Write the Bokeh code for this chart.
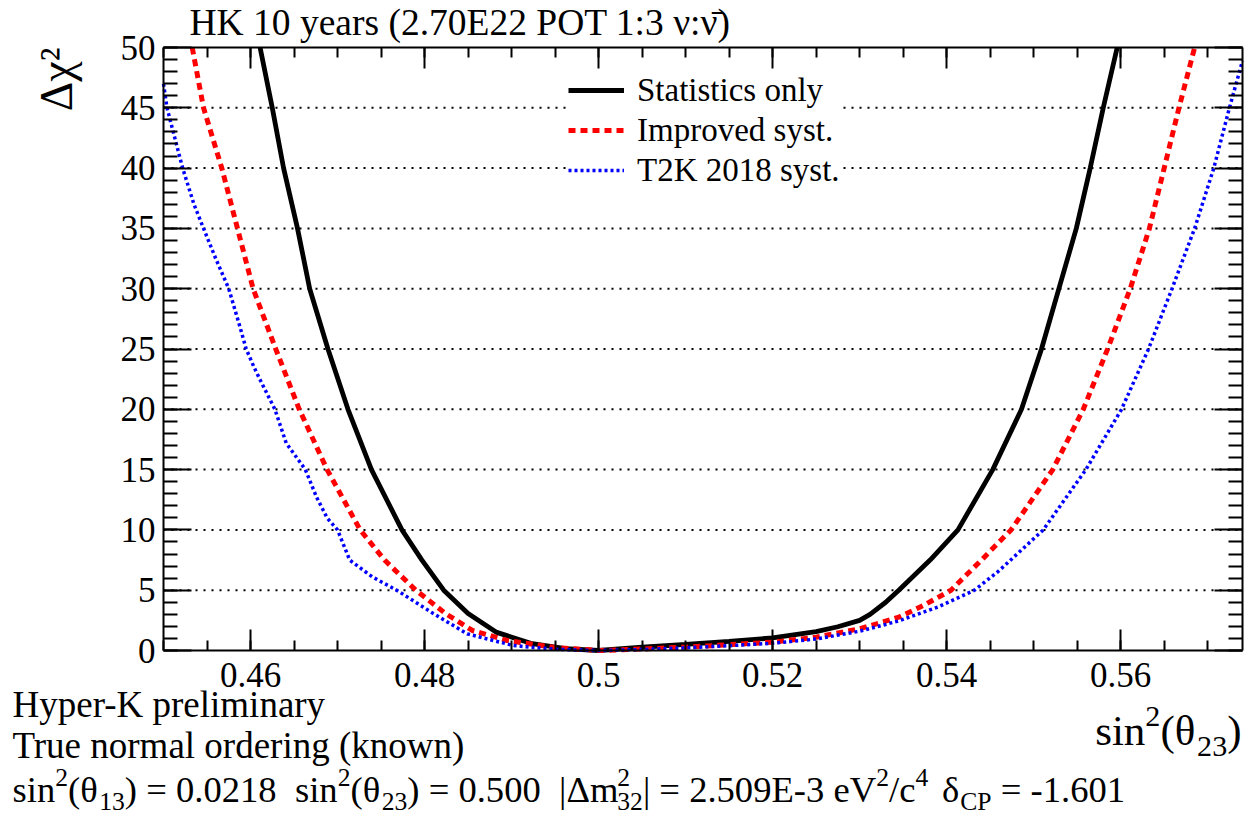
import math
from bokeh.plotting import figure
from bokeh.models import (Range1d, LinearAxis, FixedTicker, Legend, LegendItem,
                          Label, CustomJSTickFormatter)
from bokeh.embed import file_html
from bokeh.resources import INLINE

# ---------------- data ----------------
stat_x = [0.4611, 0.4625, 0.4638, 0.4654, 0.4668, 0.4689, 0.4712, 0.4739, 0.4774,
          0.4797, 0.4822, 0.4850, 0.4883, 0.4922, 0.4962, 0.5000, 0.5050, 0.5100,
          0.5150, 0.5200, 0.5250, 0.5275, 0.5300, 0.5312, 0.5330, 0.5345, 0.5381, 0.5413,
          0.5453, 0.5486, 0.5509, 0.5529, 0.5549, 0.5565, 0.5580, 0.5596]
stat_y = [50, 45, 40, 35, 30, 25, 20, 15, 10,
          7.5, 5.0, 3.07, 1.5, 0.6, 0.15, 0.0, 0.27, 0.5,
          0.75, 1.05, 1.57, 1.97, 2.5, 3.0, 4.0, 5.0, 7.5, 10,
          15, 20, 25, 30, 35, 40, 45, 50]

imp_x = [0.4533, 0.4546, 0.4567, 0.4585, 0.4603, 0.4629, 0.4656, 0.4688, 0.4726,
         0.4754, 0.4790, 0.4824, 0.4855, 0.4895, 0.4950, 0.5000, 0.5050, 0.5100, 0.5150,
         0.5200, 0.5250, 0.5300, 0.5345, 0.5375, 0.5405, 0.5440, 0.5474, 0.5522, 0.5557,
         0.5585, 0.5611, 0.5633, 0.5650, 0.5667, 0.5685]
imp_y = [50, 45, 40, 35, 30, 25, 20, 15, 10,
         7.5, 5.0, 3.07, 1.66, 0.83, 0.25, 0.0, 0.12, 0.28, 0.48,
         0.69, 1.1, 1.8, 2.76, 3.8, 5.0, 7.5, 10, 15, 20,
         25, 30, 35, 40, 45, 50]

t2k_x = [0.4500, 0.4504, 0.4522, 0.4535, 0.4546, 0.4560, 0.4575, 0.4588, 0.4595, 0.4604,
         0.4612, 0.4628, 0.4641, 0.4650, 0.4663, 0.4676, 0.4688, 0.4700, 0.4714, 0.4740,
         0.4768, 0.4810, 0.4849, 0.4902, 0.4950, 0.5000, 0.5050, 0.5100, 0.5150, 0.5200,
         0.5250, 0.5300, 0.5345, 0.5390, 0.5432, 0.5460, 0.5511, 0.5560, 0.5601, 0.5632,
         0.5659, 0.5685, 0.5707, 0.5725, 0.5740]
t2k_y = [47.0, 45, 40, 37, 35, 32.5, 30, 26.8, 25, 23.5,
         22.3, 20, 17.2, 16.3, 15, 12.7, 11.0, 10, 7.5, 6.1,
         5.0, 3.07, 1.38, 0.41, 0.1, 0.0, 0.08, 0.22, 0.4, 0.6,
         0.95, 1.6, 2.45, 3.6, 5.0, 6.6, 10, 15, 20, 25,
         30, 35, 40, 45, 48.9]

series_labels = ["Statistics only", "Improved syst.", "T2K 2018 syst."]

x_ticks = [0.46, 0.48, 0.50, 0.52, 0.54, 0.56]
x_tick_labels = ["0.46", "0.48", "0.5", "0.52", "0.54", "0.56"]
x_minor = [round(0.45 + 0.005 * i, 4) for i in range(25)]
y_ticks = [0, 5, 10, 15, 20, 25, 30, 35, 40, 45, 50]
y_minor = list(range(0, 51))
grid_y = y_ticks[1:-1]

X0, X1 = 0.45, 0.574
Y0, Y1 = 0.0, 50.0

# ---------------- layout ----------------
W, H = 1246, 819
FL, FR, FT, FB = 163, 1242, 47, 650   # plot box edges in pixels
FONT = "Liberation Serif"
BASE_SHIFT = 0.36   # label baseline correction, in em


def px2x(px):
    return X0 + (px - FL) * (X1 - X0) / (FR - FL)


def py2y(py):
    return Y0 + (FB - py) * (Y1 - Y0) / (FB - FT)


p = figure(width=W, height=H,
           x_range=Range1d(px2x(0), px2x(W)), y_range=Range1d(py2y(H), py2y(0)),
           output_backend="svg", toolbar_location=None, min_border=0)
p.background_fill_color = "white"
p.border_fill_color = "white"
p.outline_line_color = None
p.xgrid.visible = False
p.ygrid.visible = False

label_fmt = CustomJSTickFormatter(args=dict(t=x_ticks, l=x_tick_labels), code="""
let best = 0;
for (let i = 0; i < t.length; i++) {
  if (Math.abs(t[i] - tick) < Math.abs(t[best] - tick)) best = i;
}
return l[best];
""")
empty_fmt = CustomJSTickFormatter(code="return '';")


def style_axis(ax, tin, tmin):
    ax.major_tick_in = tin
    ax.major_tick_out = 0
    ax.minor_tick_in = tmin
    ax.minor_tick_out = 0
    ax.axis_line_width = 2
    ax.major_tick_line_width = 2
    ax.minor_tick_line_width = 2
    ax.axis_line_color = "black"
    ax.major_tick_line_color = "black"
    ax.minor_tick_line_color = "black"
    ax.major_label_text_font = FONT
    ax.major_label_text_color = "black"


xax = p.xaxis[0]
xax.fixed_location = Y0
xax.bounds = (X0, X1)
xax.ticker = FixedTicker(ticks=x_ticks, minor_ticks=x_minor)
xax.formatter = label_fmt
style_axis(xax, 21, 10)
xax.major_label_text_font_size = "35px"
xax.major_label_standoff = 12

yax = p.yaxis[0]
yax.fixed_location = X0
yax.bounds = (Y0, Y1)
yax.ticker = FixedTicker(ticks=y_ticks, minor_ticks=y_minor)
style_axis(yax, 28, 14)
yax.major_label_text_font_size = "35px"
yax.major_label_standoff = 8

top_ax = LinearAxis(fixed_location=Y1, bounds=(X0, X1),
                    ticker=FixedTicker(ticks=x_ticks, minor_ticks=x_minor), formatter=empty_fmt)
style_axis(top_ax, 21, 10)
top_ax.major_label_text_font_size = "1px"
top_ax.major_label_standoff = 0
p.add_layout(top_ax, "above")

right_ax = LinearAxis(fixed_location=X1, bounds=(Y0, Y1),
                      ticker=FixedTicker(ticks=y_ticks, minor_ticks=y_minor), formatter=empty_fmt)
style_axis(right_ax, 28, 14)
right_ax.major_label_text_font_size = "1px"
right_ax.major_label_standoff = 0
p.add_layout(right_ax, "right")

# horizontal dotted grid at the major y ticks, spanning the plot box
p.segment(x0=[X0] * len(grid_y), y0=grid_y, x1=[X1] * len(grid_y), y1=grid_y,
          line_color="black", line_width=2, line_dash="2 6")

# ---------------- curves ----------------
r1 = p.line(stat_x, stat_y, line_color="black", line_width=4.8)
r2 = p.line(imp_x, imp_y, line_color="#ff0000", line_width=5, line_dash="7 5")
r3 = p.line(t2k_x, t2k_y, line_color="#0000ff", line_width=3.5, line_dash="3 3")

legend = Legend(items=[LegendItem(label=series_labels[0], renderers=[r1]),
                       LegendItem(label=series_labels[1], renderers=[r2]),
                       LegendItem(label=series_labels[2], renderers=[r3])],
                location=(568, 629))
legend.padding = 13
legend.spacing = 0
legend.margin = 0
legend.glyph_width = 56
legend.glyph_height = 40
legend.label_height = 40
legend.label_standoff = 13
legend.label_text_font = FONT
legend.label_text_font_size = "33px"
legend.label_text_color = "black"
legend.border_line_color = None
legend.background_fill_color = "white"
legend.background_fill_alpha = 1.0
p.add_layout(legend, "center")

# ---------------- texts ----------------
TNR = {" ": .25, "(": .333, ")": .333, ".": .25, "/": .278, "=": .564, "-": .333, "|": .2,
       "C": .667, "E": .611, "P": .556, "V": .722, "c": .444, "e": .444, "i": .278,
       "m": .778, "n": .5, "s": .389, "θ": .52, "Δ": .612, "δ": .5}


def tw(s, size):
    return sum(TNR.get(ch, 0.5) for ch in s) * size


def add_text(text, x_px, y_px, size, align="left", angle=0.0):
    if angle:
        x_px = x_px - BASE_SHIFT * size
    else:
        y_px = y_px - BASE_SHIFT * size
    p.add_layout(Label(x=px2x(x_px), y=py2y(y_px), text=text, text_font=FONT,
                       text_font_size=f"{size:.1f}px", text_align=align,
                       text_baseline="alphabetic", text_color="black", angle=angle))


def rich(tokens, x_px, base_py, size, align="left", sub_drop=0.27):
    small = size * 0.7

    def adv(tok):
        kind, t = tok
        if kind == "n":
            return tw(t, size)
        if kind in ("sup", "sub"):
            return tw(t, small)
        if kind == "supsub":
            return max(tw(t[0], small), tw(t[1], small))
        if kind == "gap":
            return t * 0.25 * size
        return 0

    total = sum(adv(tk) for tk in tokens)
    x = x_px if align == "left" else x_px - total
    for tk in tokens:
        kind, t = tk
        if kind == "n":
            add_text(t, x, base_py, size)
        elif kind == "sup":
            add_text(t, x, base_py - 0.42 * size, small)
        elif kind == "sub":
            add_text(t, x, base_py + sub_drop * size, small)
        elif kind == "supsub":
            add_text(t[0], x, base_py - 0.42 * size, small)
            add_text(t[1], x, base_py + sub_drop * size, small)
        x += adv(tk)


# title
add_text("HK 10 years (2.70E22 POT 1:3 ν:ν\u0304)", 189, 35, 37.5)

# y-axis title (rotated)
add_text("Δχ²", 73, 47, 46, align="right", angle=math.pi / 2)

# x-axis title
rich([("n", "sin"), ("sup", "2"), ("n", "(θ"), ("sub", "23"), ("n", ")")],
     1241, 745, 43, align="right")

# bottom text block
add_text("Hyper-K preliminary", 12, 717, 37)
add_text("True normal ordering (known)", 12, 758, 37)
rich([("n", "sin"), ("sup", "2"), ("n", "(θ"), ("sub", "13"), ("n", ") = 0.0218"), ("gap", 2),
      ("n", "sin"), ("sup", "2"), ("n", "(θ"), ("sub", "23"), ("n", ") = 0.500"), ("gap", 2),
      ("n", "|Δm"), ("supsub", ("2", "32")), ("n", "| = 2.509E-3 eV"), ("sup", "2"),
      ("n", "/c"), ("sup", "4"), ("gap", 1.5), ("n", "δ"), ("sub", "CP"), ("gap", 1),
      ("n", "= -1.601")],
     12, 802, 36.6, sub_drop=0.22)

open("out.html", "w").write(file_html(p, INLINE))
